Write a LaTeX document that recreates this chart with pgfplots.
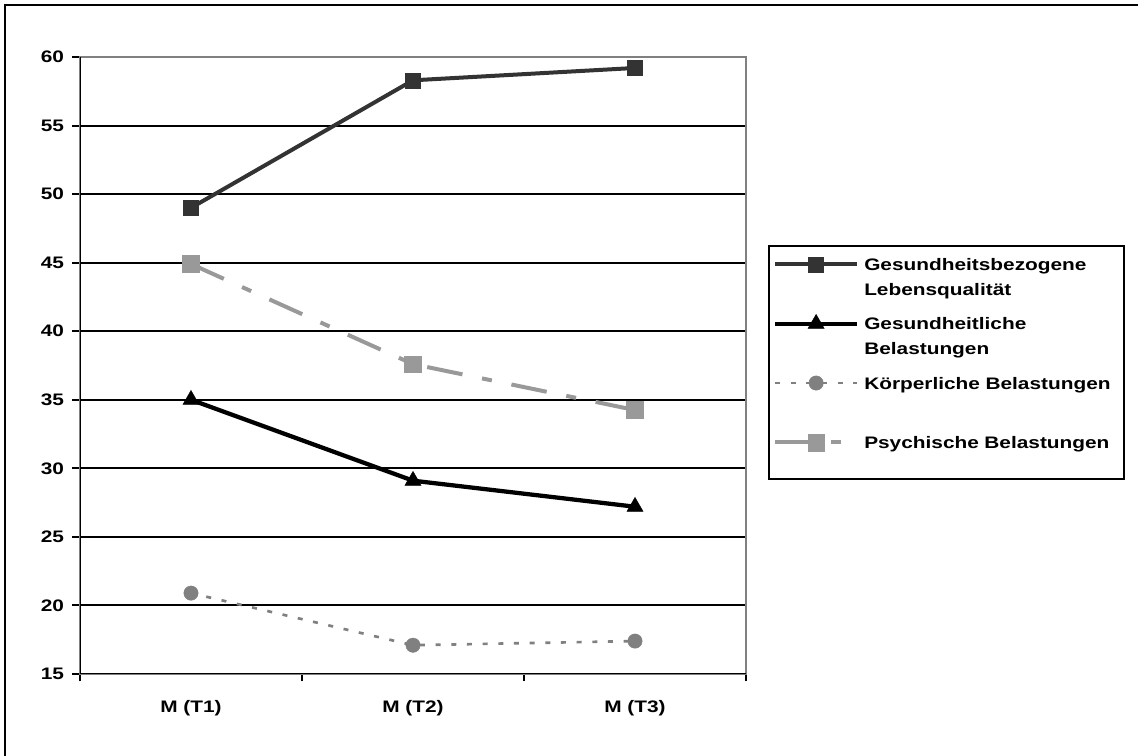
\documentclass[border=0pt]{standalone}
\usepackage{fontspec}
\setmainfont[FakeStretch=1.25]{Liberation Sans}
\usepackage{pgfplots}
\pgfplotsset{compat=1.18}
\definecolor{sdark}{HTML}{333333}
\definecolor{sgray}{HTML}{808080}
\definecolor{slight}{HTML}{999999}
\definecolor{framegray}{HTML}{808080}
\newcommand{\lf}{\fontsize{12.5}{18.4}\selectfont\bfseries}
\begin{document}
\begin{tikzpicture}[x=0.75pt,y=0.75pt]
\useasboundingbox (0,0) rectangle (1138,756);
\draw[black,line width=1.5pt] (5,0) -- (5,751) -- (1138,751);
\begin{axis}[
  at={(60pt,61.5pt)}, anchor=south west,
  scale only axis, width=499.5pt, height=462.75pt,
  xmin=-0.5, xmax=2.5, ymin=15, ymax=60,
  xtick={0,1,2}, xticklabels={M (T1),M (T2),M (T3)},
  minor xtick={-0.5,0.5,1.5,2.5},
  ytick={15,20,25,30,35,40,45,50,55,60},
  xtick pos=bottom, ytick pos=left,
  tick align=outside,
  every major x tick/.append style={draw=none},
  every minor x tick/.append style={black,line width=1.5pt},
  every major y tick/.append style={black,line width=1.5pt},
  major tick length=6pt, minor tick length=5.5pt,
  ymajorgrids, grid style={black,line width=1.5pt},
  axis line style={framegray,line width=1.5pt},
  tick label style={font=\fontsize{12.5}{15}\selectfont\bfseries},
  yticklabel style={xshift=-2.5pt},
  xticklabel style={yshift=-10pt},
  /pgf/number format/assume math mode=true,
  legend image code/.code={\draw[yshift=4.6pt,mark repeat=2,mark phase=2,#1] plot coordinates {(0pt,0pt) (30.75pt,0pt) (61.5pt,0pt)};},
  legend cell align=left,
  legend style={
    at={(1.033,0.6953)}, anchor=north west,
    draw=black, line width=1.5pt,
    inner xsep=3pt, inner ysep=5.5pt,
    row sep=7.7pt,
    nodes={inner sep=0pt, anchor=base west, text depth={}, text width=192pt, align=left, font=\lf},
    /tikz/every odd column/.append style={column sep=3.75pt},
  },
]
\addplot[sdark, line width=3pt, mark=square*, mark size=5.6pt,
  mark options={solid, fill=sdark, draw=sdark, line width=0.3pt}]
  coordinates {(0,49.0) (1,58.3) (2,59.2)};
\addlegendentry{\strut Gesundheitsbezogene\\\strut Lebensqualität}
\addplot[black, line width=3.2pt, mark=triangle*, mark size=7pt,
  mark options={solid, fill=black, line width=0.3pt}]
  coordinates {(0,35.0) (1,29.1) (2,27.2)};
\addlegendentry{\strut Gesundheitliche\\\strut Belastungen}
\addplot[sgray, line width=2pt, dash pattern=on 3.75pt off 8pt, mark=*, mark size=5.4pt,
  mark options={solid, fill=sgray, draw=sgray, line width=0.3pt}]
  coordinates {(0,20.9) (1,17.1) (2,17.4)};
\addlegendentry{\strut\mbox{Körperliche Belastungen}\\\strut}
\addplot[slight, line width=3pt, dash pattern=on 27pt off 15pt on 7.5pt off 15pt, mark=square*, mark size=6.3pt,
  mark options={solid, fill=slight, draw=slight, line width=0.3pt}]
  coordinates {(0,44.9) (1,37.6) (2,34.25)};
\addlegendentry{\strut\mbox{Psychische Belastungen}\rule[-17pt]{0pt}{1pt}}
\draw[black,line width=1.5pt] (rel axis cs:0,1) -- (rel axis cs:0,0) -- (rel axis cs:1,0);
\end{axis}
\end{tikzpicture}
\end{document}
